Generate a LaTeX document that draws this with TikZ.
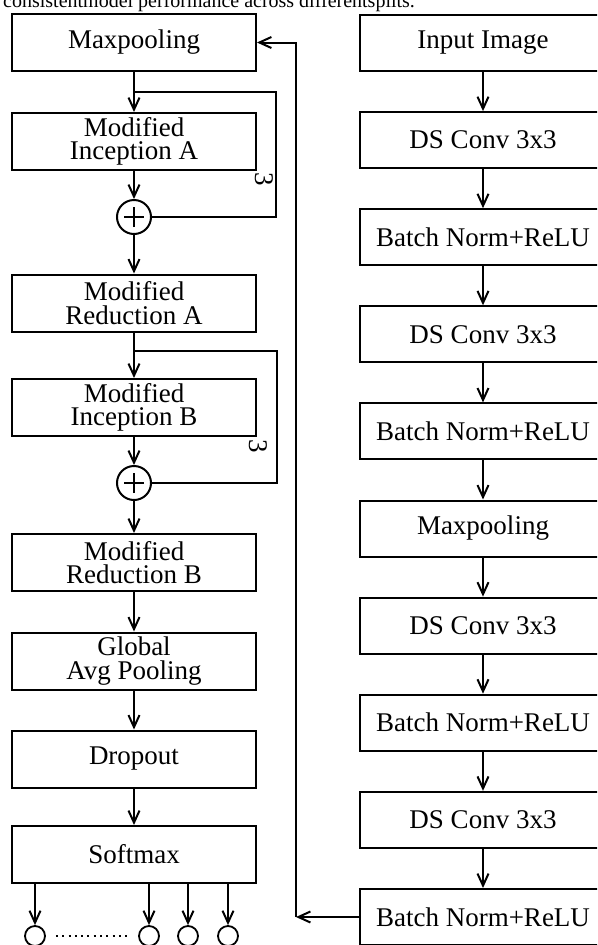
\documentclass[tikz,border=0pt]{standalone}
\usepackage{fontspec}
\setmainfont{Liberation Serif}
\usetikzlibrary{positioning, arrows.meta}

\tikzset{
  blk/.style={draw, line width=2pt, minimum width=244pt, minimum height=57pt, inner sep=0pt,
    align=center, font=\fontsize{27}{23.5}\selectfont},
  rblk/.style={blk, minimum width=246pt, minimum height=56pt},
  addop/.style={draw, circle, line width=2pt, minimum size=34pt, inner sep=0pt,
    path picture={\draw[line width=2.8pt] (path picture bounding box.center) +(-10pt,0) -- +(10pt,0)
      (path picture bounding box.center) +(0,-10pt) -- +(0,10pt);}},
  outc/.style={draw, circle, line width=1.8pt, minimum size=20pt, inner sep=0pt},
  flow/.style={-{Straight Barb[length=12pt,width=11pt]}, line width=2pt},
  skip/.style={line width=2pt},
  rep/.style={rotate=-90, inner sep=0pt, font=\fontsize{27}{27}\selectfont},
}

\begin{document}
\begin{tikzpicture}[x=1pt, y=-1pt]
  \useasboundingbox (0,0) rectangle (597,945);
  \clip (0,0) rectangle (597,945);

  \node[anchor=base west, inner sep=0pt, font=\fontsize{20}{20}\selectfont] (cap) at (3,7)
    {consistentmodel performance across differentsplits.};

  % left column
  \node[blk] (mpA) at (134,42.5) {Maxpooling};
  \node[blk] (incA) at (134,141.5) {Modified\\Inception A};
  \node[addop] (addA) at (134,217) {};
  \node[blk] (redA) at (134,303) {Modified\\Reduction A};
  \node[blk] (incB) at (134,407.5) {Modified\\Inception B};
  \node[addop] (addB) at (134,483) {};
  \node[blk] (redB) at (134,562.5) {Modified\\Reduction B};
  \node[blk] (gap) at (134,661) {Global\\Avg Pooling};
  \node[blk] (drop) at (134,759) {Dropout};
  \node[blk] (soft) at (134,854.5) {Softmax};

  \foreach \a/\b in {mpA/incA, incA/addA, addA/redA, redA/incB, incB/addB,
                     addB/redB, redB/gap, gap/drop, drop/soft}
    \draw[flow] (\a) -- (\b);

  % residual branches
  \coordinate (sA) at (276,92);
  \coordinate (sB) at (277,351);
  \draw[skip] (mpA.south |- sA) -- (sA) -- (sA |- addA) -- (addA.east);
  \draw[skip] (redA.south |- sB) -- (sB) -- (sB |- addB) -- (addB.east);
  \node[rep] (rA) at ([shift={(7,8)}]incA.south east) {3};
  \node[rep] (rB) at ([shift={(1,9)}]incB.south east) {3};

  % class outputs
  \node[outc] (o1) at (35,936) {};
  \node[outc] (o2) at (149,936) {};
  \node[outc] (o3) at (188,936) {};
  \node[outc] (o4) at (228,936) {};
  \foreach \o in {o1,o2,o3,o4}
    \draw[flow] (soft.south -| \o) -- (\o);
  \draw[line width=2pt, dash pattern=on 2pt off 4.3pt] ([xshift=10pt]o1.east) -- ([xshift=-9pt]o2.west);

  % right column
  \node[rblk] (img) at (483,43) {Input Image};
  \node[rblk] (ds1) at (483,140.1) {DS Conv 3x3};
  \node[rblk] (bn1) at (483,237.2) {Batch Norm+ReLU};
  \node[rblk] (ds2) at (483,334.3) {DS Conv 3x3};
  \node[rblk] (bn2) at (483,431.4) {Batch Norm+ReLU};
  \node[rblk] (mpB) at (483,528.5) {Maxpooling};
  \node[rblk] (ds3) at (483,625.6) {DS Conv 3x3};
  \node[rblk] (bn3) at (483,722.7) {Batch Norm+ReLU};
  \node[rblk] (ds4) at (483,819.8) {DS Conv 3x3};
  \node[rblk] (bn4) at (483,917) {Batch Norm+ReLU};

  \foreach \a/\b in {img/ds1, ds1/bn1, bn1/ds2, ds2/bn2, bn2/mpB,
                     mpB/ds3, ds3/bn3, bn3/ds4, ds4/bn4}
    \draw[flow] (\a) -- (\b);

  % feedback into the left column
  \coordinate (fbB) at (296,917);
  \coordinate (fbT) at (296,42.5);
  \draw[flow] (bn4.west) -- (fbB);
  \draw[flow] (fbB) -- (fbT) -- (mpA.east);
\end{tikzpicture}
\end{document}
